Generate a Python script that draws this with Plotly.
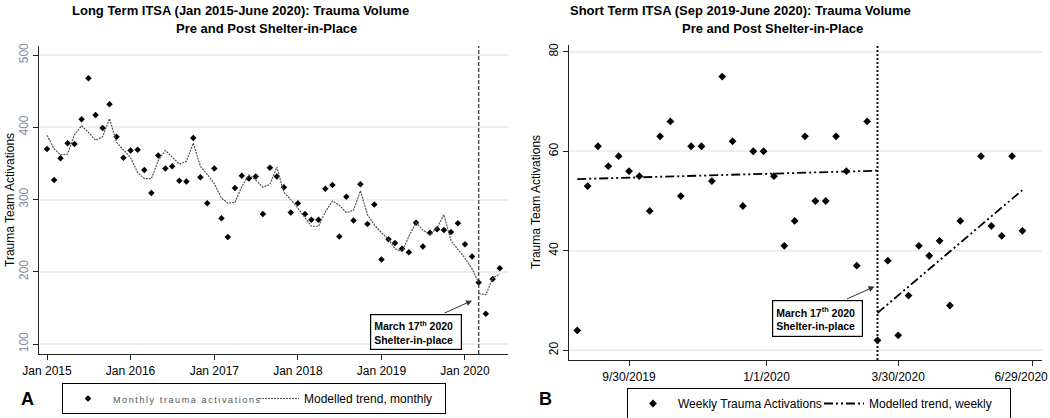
import plotly.graph_objects as go
import pandas as pd

# ---------------- Data: Panel A (monthly) ----------------
months = pd.date_range("2015-01-01", periods=66, freq="MS")
monthly_activations = [
    370, 327, 357, 378, 377, 411, 468, 417, 399, 432, 387, 358,   # 2015
    368, 369, 341, 309, 361, 343, 346, 326, 325, 385, 331, 295,   # 2016
    343, 274, 248, 316, 333, 329, 332, 280, 344, 332, 317, 282,   # 2017
    295, 280, 272, 272, 315, 320, 249, 304, 271, 321, 266, 293,   # 2018
    217, 245, 240, 232, 227, 268, 235, 254, 259, 258, 255, 267,   # 2019
    238, 221, 185, 142, 190, 205,                                 # 2020
]
trend_pre_monthly = [
    389, 370, 362, 363, 390, 402, 393, 382, 387, 412, 379, 368,
    358, 337, 329, 329, 354, 368, 358, 349, 353, 378, 346, 335,
    322, 302, 295, 296, 318, 334, 327, 317, 321, 345, 310, 300,
    288, 275, 263, 263, 283, 298, 292, 282, 285, 312, 279, 265,
    254, 245, 232, 228, 249, 268, 258, 251, 261, 279, 243, 231,
    219, 204, 185,
]
trend_post_months = ["2020-03-01", "2020-04-01", "2020-05-01", "2020-06-01"]
trend_post_monthly = [170, 168, 191, 197]
shelter_month = "2020-03-01"
arrow_a_point = ("2020-02-01", 160)

a_tickvals = ["2015-01-01", "2016-01-01", "2017-01-01", "2018-01-01", "2019-01-01", "2020-01-01"]
a_ticktext = ["Jan 2015", "Jan 2016", "Jan 2017", "Jan 2018", "Jan 2019", "Jan 2020"]
a_yticks = [100, 200, 300, 400, 500]

# ---------------- Data: Panel B (weekly) ----------------
weeks = pd.date_range("2019-08-26", periods=44, freq="7D")
weekly_activations = [
    24, 53, 61, 57, 59, 56, 55, 48, 63, 66, 51, 61, 61, 54, 75, 62, 49, 60, 60, 55,
    41, 46, 63, 50, 50, 63, 56, 37, 66, 22, 38, 23, 31, 41, 39, 42, 29, 46, None, 59,
    45, 43, 59, 44,
]
trend_pre_weeks = ["2019-08-26", "2020-03-16"]
trend_pre_weekly = [54.4, 56.1]
trend_post_weeks = ["2020-03-16", "2020-06-22"]
trend_post_weekly = [27.5, 52.2]
shelter_week = "2020-03-16"
arrow_b_point = ("2020-03-14", 32.8)

b_tickvals = ["2019-09-30", "2020-01-01", "2020-03-30", "2020-06-29"]
b_ticktext = ["9/30/2019", "1/1/2020", "3/30/2020", "6/29/2020"]
b_yticks = [20, 40, 60, 80]

FONT = "Liberation Sans, Arial, sans-serif"

fig = go.Figure()

# Panel A traces
fig.add_trace(go.Scatter(
    x=months, y=monthly_activations, mode="markers",
    marker=dict(symbol="diamond", size=5, color="black"),
    name='<span style="font-size:9px;color:#555;letter-spacing:1.6px">Monthly trauma activations</span>',
    xaxis="x", yaxis="y", legend="legend",
))
fig.add_trace(go.Scatter(
    x=months[:len(trend_pre_monthly)], y=trend_pre_monthly, mode="lines",
    line=dict(color="#555555", width=1.2, dash="2px,1px"),
    name="Modelled trend, monthly", xaxis="x", yaxis="y", legend="legend",
))
fig.add_trace(go.Scatter(
    x=trend_post_months, y=trend_post_monthly, mode="lines",
    line=dict(color="#555555", width=1.2, dash="2px,1px"),
    showlegend=False, xaxis="x", yaxis="y",
))

# Panel B traces
fig.add_trace(go.Scatter(
    x=weeks, y=weekly_activations, mode="markers",
    marker=dict(symbol="diamond", size=6, color="black"),
    name="Weekly Trauma Activations", xaxis="x2", yaxis="y2", legend="legend2",
))
fig.add_trace(go.Scatter(
    x=trend_pre_weeks, y=trend_pre_weekly, mode="lines",
    line=dict(color="black", width=1.8, dash="9px,3px,2px,3px,2px,3px"),
    name="Modelled trend, weekly", xaxis="x2", yaxis="y2", legend="legend2",
))
fig.add_trace(go.Scatter(
    x=trend_post_weeks, y=trend_post_weekly, mode="lines",
    line=dict(color="black", width=1.8, dash="9px,3px,2px,3px,2px,3px"),
    showlegend=False, xaxis="x2", yaxis="y2",
))

# Vertical shelter-in-place lines
fig.add_shape(type="line", xref="x", yref="y domain", x0=shelter_month, x1=shelter_month,
              y0=0, y1=1, line=dict(color="#444", width=1.3, dash="4px,2px"))
fig.add_shape(type="line", xref="x2", yref="y2 domain", x0=shelter_week, x1=shelter_week,
              y0=0, y1=1, line=dict(color="#111", width=2, dash="2px,2px"))

W, H = 1050, 418
def px_x(p): return p / W
def px_y(p): return 1 - p / H

axis_common = dict(showline=True, linecolor="#222", linewidth=1.2, ticks="outside",
                   ticklen=5, tickcolor="#222", zeroline=False, automargin=False,
                   tickfont=dict(family=FONT, size=12, color="black"))

legend_common = dict(xanchor="left", yanchor="top", orientation="h",
                     bordercolor="black", borderwidth=1, bgcolor="white",
                     font=dict(family=FONT, size=12, color="black"),
                     entrywidth=136, entrywidthmode="pixels", tracegroupgap=0, itemwidth=40)

# last label nudged left (as in the original) so it stays inside the figure
b_ticklabels = b_ticktext[:-1] + [b_ticktext[-1] + "\u00a0" * 7]

fig.update_layout(
    template="plotly_white",
    width=W, height=H, margin=dict(l=0, r=0, t=0, b=0, autoexpand=False),
    paper_bgcolor="white", plot_bgcolor="white",
    font=dict(family=FONT, size=12, color="black"),
    xaxis=dict(domain=[px_x(39), px_x(508)], anchor="y", type="date",
               range=["2014-11-27", "2020-07-07"], tickvals=a_tickvals, ticktext=a_ticktext,
               showgrid=False, **axis_common),
    yaxis=dict(domain=[px_y(354), px_y(46)], anchor="x", range=[86.2, 512.5],
               tickvals=a_yticks, tickangle=-90, showgrid=True, gridcolor="#eeeeee", gridwidth=1.5,
               **{**axis_common, "tickfont": dict(family=FONT, size=12, color="#7f8ca0")}),
    xaxis2=dict(domain=[px_x(569), px_x(1042)], anchor="y2", type="date",
                range=["2019-08-20 10:00", "2020-07-05 06:00"], tickvals=b_tickvals, ticktext=b_ticklabels,
                showgrid=False, ticklabeloverflow="allow", **axis_common),
    yaxis2=dict(domain=[px_y(360), px_y(45)], anchor="x2", range=[18.05, 81.35],
                tickvals=b_yticks, tickangle=-90, showgrid=True, gridcolor="#eeeeee", gridwidth=1.5,
                **axis_common),
    legend=dict(x=px_x(62), y=px_y(383), **legend_common),
    legend2=dict(x=px_x(627), y=px_y(388), **legend_common),
)

annotations = [
    dict(text="<b>Long Term ITSA (Jan 2015-June 2020): Trauma Volume</b>", x=px_x(240), y=px_y(11)),
    dict(text="<b>Pre and Post Shelter-in-Place</b>", x=px_x(266), y=px_y(28)),
    dict(text="<b>Short Term ITSA (Sep 2019-June 2020): Trauma Volume</b>", x=px_x(740), y=px_y(11)),
    dict(text="<b>Pre and Post Shelter-in-Place</b>", x=px_x(772), y=px_y(28)),
]
for a in annotations:
    fig.add_annotation(xref="paper", yref="paper", showarrow=False, xanchor="center", yanchor="middle",
                       font=dict(family=FONT, size=13, color="black"), **a)

for txt, x in [("A", 27), ("B", 545)]:
    fig.add_annotation(text=f"<b>{txt}</b>", xref="paper", yref="paper", x=px_x(x), y=px_y(399),
                       xanchor="center", yanchor="middle",
                       showarrow=False, font=dict(family=FONT, size=18, color="black"))

for x, yc in [(10, 200), (536, 202)]:
    fig.add_annotation(text="Trauma Team Activations", xref="paper", yref="paper", x=px_x(x), y=px_y(yc),
                       xanchor="center", yanchor="middle",
                       textangle=-90, showarrow=False, font=dict(family=FONT, size=12, color="black"))

# Shelter-in-place boxes
box_text = "<b>March 17<sup>th</sup> 2020</b><br><b>Shelter-in-place</b>"
for left, top, right, bottom in [(370, 314, 462, 348), (772, 300, 863, 335)]:
    fig.add_annotation(text=box_text, xref="paper", yref="paper", x=px_x(left), y=px_y(top),
                       xanchor="left", yanchor="top", showarrow=False, align="left", valign="middle",
                       width=right - left - 8, height=bottom - top - 6, borderpad=3,
                       bordercolor="black", borderwidth=1.2, bgcolor="white",
                       font=dict(family="Liberation Sans, Arial", size=10.5, color="black"))

# Arrows
fig.add_annotation(x=arrow_a_point[0], y=arrow_a_point[1], xref="x", yref="y", text="",
                   showarrow=True, arrowhead=2, arrowsize=1.2, arrowwidth=1, arrowcolor="#333",
                   ax=-29, ay=13)
fig.add_annotation(x=arrow_b_point[0], y=arrow_b_point[1], xref="x2", yref="y2", text="",
                   showarrow=True, arrowhead=2, arrowsize=1.2, arrowwidth=1, arrowcolor="#333",
                   ax=-29, ay=13)

fig.write_html("out.html", config={"displayModeBar": False},
               post_script="document.body.style.margin='0';document.body.style.padding='0';")
